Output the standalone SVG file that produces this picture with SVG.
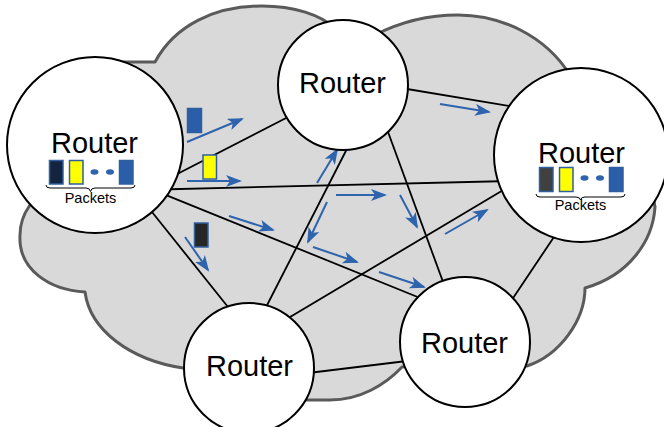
<svg xmlns="http://www.w3.org/2000/svg" width="664" height="427" viewBox="0 0 664 427">
  <style>
    .cloud { fill: #d9d9d9; stroke: #5a5a5a; stroke-width: 3; stroke-linejoin: round; }
    .link { stroke: #000; stroke-width: 1.8; fill: none; }
    .flow { stroke: #2e63ad; stroke-width: 2; fill: none; marker-end: url(#head); }
    .node { fill: #fff; stroke: #000; stroke-width: 2; }
    .label { font-family: "Liberation Sans", Arial, sans-serif; font-size: 29px; fill: #000; text-anchor: middle; }
    .small { font-family: "Liberation Sans", Arial, sans-serif; font-size: 14.5px; fill: #000; text-anchor: middle; }
    .pkt { stroke: #2f5f9f; stroke-width: 1.5; }
    .navy { fill: #14243f; }
    .yellow { fill: #ffff00; }
    .blue { fill: #2a5ea8; }
    .dark { fill: #262626; }
    .grey { fill: #404040; }
    .dot { fill: #2e63ad; }
    .brace { stroke: #000; stroke-width: 1; fill: none; }
  </style>
  <defs>
    <marker id="head" markerUnits="userSpaceOnUse" markerWidth="18" markerHeight="14" refX="14" refY="6" orient="auto">
      <path d="M0,0 L16,6 L0,12 L4,6 Z" fill="#2e63ad"/>
    </marker>
  </defs>

  <!-- network cloud -->
  <path class="cloud" d="M120,62 L155,62 C175,25 215,6 262,6 C295,6 320,15 335,28 L375,35 C400,22 430,15 458,15 C500,15 545,35 570,75 L640,120 L655,207 C653,240 630,275 585,288 C585,320 560,355 527,366 L460,360 L402,367 C385,385 360,400 330,400 L305,400 L249,370 L183,368 C130,360 90,330 85,292 C50,290 18,270 20,235 C20,222 25,212 30,205 L60,150 Z"/>

  <g id="connectors">
    <!-- links between routers -->
    <line class="link" x1="150" y1="188" x2="290" y2="116"/>
    <line class="link" x1="160" y1="189.5" x2="510" y2="181"/>
    <line class="link" x1="155" y1="190.6" x2="425" y2="300"/>
    <line class="link" x1="140" y1="197" x2="232" y2="312"/>
    <line class="link" x1="352" y1="139" x2="262" y2="315"/>
    <line class="link" x1="384" y1="121" x2="446" y2="290"/>
    <line class="link" x1="395" y1="87" x2="515" y2="107"/>
    <line class="link" x1="280" y1="323" x2="510" y2="186"/>
    <line class="link" x1="300" y1="374" x2="415" y2="360"/>
    <line class="link" x1="505" y1="310" x2="560" y2="228"/>

    <!-- packet flows -->
    <line class="flow" x1="187" y1="142" x2="242" y2="119"/>
    <line class="flow" x1="187" y1="181" x2="240" y2="181"/>
    <line class="flow" x1="229" y1="216" x2="273" y2="230"/>
    <line class="flow" x1="185" y1="237" x2="208" y2="270"/>
    <line class="flow" x1="317" y1="183" x2="337" y2="150"/>
    <line class="flow" x1="336" y1="195" x2="385" y2="195"/>
    <line class="flow" x1="327" y1="202" x2="308" y2="242"/>
    <line class="flow" x1="400" y1="195" x2="417" y2="227"/>
    <line class="flow" x1="313" y1="247" x2="357" y2="262"/>
    <line class="flow" x1="379" y1="272" x2="424" y2="287"/>
    <line class="flow" x1="440" y1="104" x2="489" y2="112"/>
    <line class="flow" x1="445" y1="234" x2="487" y2="210"/>
  </g>

  <!-- packets in transit -->
  <g id="packets-in-transit">
    <rect class="pkt blue" x="187.5" y="108.5" width="14" height="24"/>
    <rect class="pkt yellow" x="203" y="155" width="13.5" height="24"/>
    <rect class="pkt dark" x="194.5" y="223" width="13.5" height="24"/>
  </g>

  <g id="router-left">
    <circle class="node" cx="95" cy="145" r="88"/>
    <text class="label" x="94.5" y="153">Router</text>
    <rect class="pkt navy" x="49.5" y="160.5" width="13.5" height="23.5"/>
    <rect class="pkt yellow" x="69.5" y="160.5" width="13.5" height="23.5"/>
    <ellipse class="dot" cx="94.5" cy="172" rx="4" ry="2.7"/>
    <ellipse class="dot" cx="110" cy="172" rx="4" ry="2.7"/>
    <rect class="pkt blue" x="119.5" y="160.5" width="13.5" height="23.5"/>
    <path class="brace" d="M46,185 Q46,188 50,188 L86,188 Q90,188 90.5,191.5 Q91,188 95,188 L131,188 Q135,188 135,185"/>
    <text class="small" x="90.5" y="203">Packets</text>
  </g>

  <g id="router-top">
    <circle class="node" cx="343" cy="85" r="65"/>
    <text class="label" x="342.5" y="93">Router</text>
  </g>

  <g id="router-right">
    <circle class="node" cx="581" cy="155" r="87"/>
    <text class="label" x="581.5" y="163">Router</text>
    <rect class="pkt grey" x="539.5" y="167.5" width="13.5" height="24"/>
    <rect class="pkt yellow" x="559.5" y="167.5" width="13.5" height="24"/>
    <ellipse class="dot" cx="584.5" cy="178" rx="4" ry="2.7"/>
    <ellipse class="dot" cx="600" cy="178" rx="4" ry="2.7"/>
    <rect class="pkt blue" x="609.5" y="167.5" width="13.5" height="24"/>
    <path class="brace" d="M536,194 Q536,197 540,197 L576,197 Q580,197 580.5,200 Q581,197 585,197 L621,197 Q625,197 625,194"/>
    <text class="small" x="580.5" y="210">Packets</text>
  </g>

  <g id="router-bottom-right">
    <circle class="node" cx="465" cy="342" r="65"/>
    <text class="label" x="464.5" y="353">Router</text>
  </g>

  <g id="router-bottom-left">
    <circle class="node" cx="249" cy="368" r="65"/>
    <text class="label" x="249.5" y="376">Router</text>
  </g>
</svg>
